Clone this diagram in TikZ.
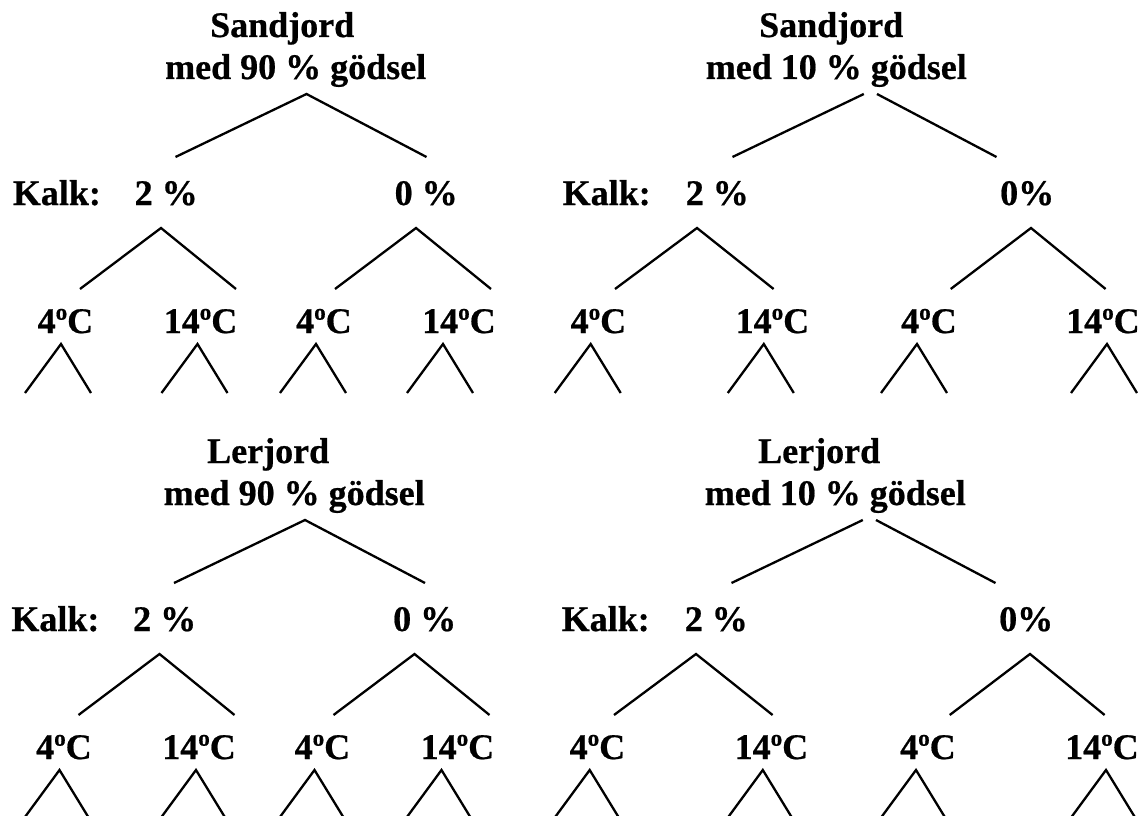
\documentclass[tikz,border=0pt]{standalone}
\usepackage{fontspec}
\setmainfont{Liberation Serif}[BoldFeatures={FakeBold=0.6}]

% superscript "o" used in the temperature labels
\newcommand\supo{\raisebox{0.37em}{\fontsize{23}{23}\selectfont o}}

\tikzset{
  lbl/.style={anchor=base west, inner sep=0pt,
              font=\fontsize{36}{42}\selectfont\bfseries},
  branch/.style={line width=2.3pt, line cap=butt, line join=miter},
}

% small fork under every temperature label
\newcommand\smallforks[2]{% #1 prefix, #2 list of apex x positions
  \foreach \x [count=\n] in {#2}{%
    \coordinate (#1-s\n) at (\x,344);
    \coordinate (#1-s\n l) at (\x-36,393);
    \coordinate (#1-s\n r) at (\x+30,393);
    \draw[branch] (#1-s\n l) -- (#1-s\n) -- (#1-s\n r);
  }%
}

% tree with 90 % manure (left column)
\newcommand\leftblock[3]{% #1 prefix, #2 soil, #3 x of soil word
  \node[lbl] (#1-soil) at (#3,37) {#2};
  \node[lbl] (#1-med)  at (165,79) {med 90 \% gödsel};
  \node[lbl] (#1-kalk) at (12.7,205) {Kalk:};
  \node[lbl] (#1-k2)   at (134.5,205) {2 \%};
  \node[lbl] (#1-k0)   at (394.5,205) {0 \%};
  \node[lbl] (#1-t1)   at (37.5,333) {4\supo C};
  \node[lbl] (#1-t2)   at (163.6,333) {14\supo C};
  \node[lbl] (#1-t3)   at (296,333) {4\supo C};
  \node[lbl] (#1-t4)   at (422,333) {14\supo C};
  % fork from the soil to the two lime levels
  \coordinate (#1-top) at (306.5,94);
  \coordinate (#1-topl) at (175.5,157);
  \coordinate (#1-topr) at (426.5,157);
  \draw[branch] (#1-topl) -- (#1-top) -- (#1-topr);
  % forks from the lime levels to the temperatures
  \coordinate (#1-m1) at (161,228);
  \coordinate (#1-m1l) at (80,289);
  \coordinate (#1-m1r) at (236,289);
  \draw[branch] (#1-m1l) -- (#1-m1) -- (#1-m1r);
  \coordinate (#1-m2) at (416,228);
  \coordinate (#1-m2l) at (335,289);
  \coordinate (#1-m2r) at (491,289);
  \draw[branch] (#1-m2l) -- (#1-m2) -- (#1-m2r);
  \smallforks{#1}{61,197.5,316,443}
}

% tree with 10 % manure (right column)
\newcommand\rightblock[3]{% #1 prefix, #2 soil, #3 x of soil word
  \node[lbl] (#1-soil) at (#3,37) {#2};
  \node[lbl] (#1-med)  at (705.6,79) {med 10 \% gödsel};
  \node[lbl] (#1-kalk) at (562.5,205) {Kalk:};
  \node[lbl] (#1-k2)   at (685.6,205) {2 \%};
  \node[lbl] (#1-k0)   at (1000,205) {0\%};
  \node[lbl] (#1-t1)   at (570.5,333) {4\supo C};
  \node[lbl] (#1-t2)   at (735.5,333) {14\supo C};
  \node[lbl] (#1-t3)   at (901,333) {4\supo C};
  \node[lbl] (#1-t4)   at (1066,333) {14\supo C};
  % two separate strokes from the soil to the lime levels
  \coordinate (#1-topa) at (863.8,94);
  \coordinate (#1-topb) at (877,94);
  \coordinate (#1-topl) at (732.5,157);
  \coordinate (#1-topr) at (996.5,157);
  \draw[branch] (#1-topa) -- (#1-topl);
  \draw[branch] (#1-topb) -- (#1-topr);
  \coordinate (#1-m1) at (697,228);
  \coordinate (#1-m1l) at (615,289);
  \coordinate (#1-m1r) at (773.6,289);
  \draw[branch] (#1-m1l) -- (#1-m1) -- (#1-m1r);
  \coordinate (#1-m2) at (1031,228);
  \coordinate (#1-m2l) at (950.7,289);
  \coordinate (#1-m2r) at (1105.6,289);
  \draw[branch] (#1-m2l) -- (#1-m2) -- (#1-m2r);
  \smallforks{#1}{590.7,763.8,917,1107}
}

\begin{document}
\begin{tikzpicture}[x=1pt,y=-1pt]
  \useasboundingbox (0,0) rectangle (1141,816);
  \clip (0,0) rectangle (1141,816);
  \fill[white] (0,0) rectangle (1141,816);

  % sandy soil
  \leftblock{sa}{Sandjord}{210}
  \rightblock{sb}{Sandjord}{759}

  % clay soil
  \begin{scope}[shift={(-1.5,426)}]
    \leftblock{la}{Lerjord}{208.5}
  \end{scope}
  \begin{scope}[shift={(-1,426)}]
    \rightblock{lb}{Lerjord}{759}
  \end{scope}
\end{tikzpicture}
\end{document}
